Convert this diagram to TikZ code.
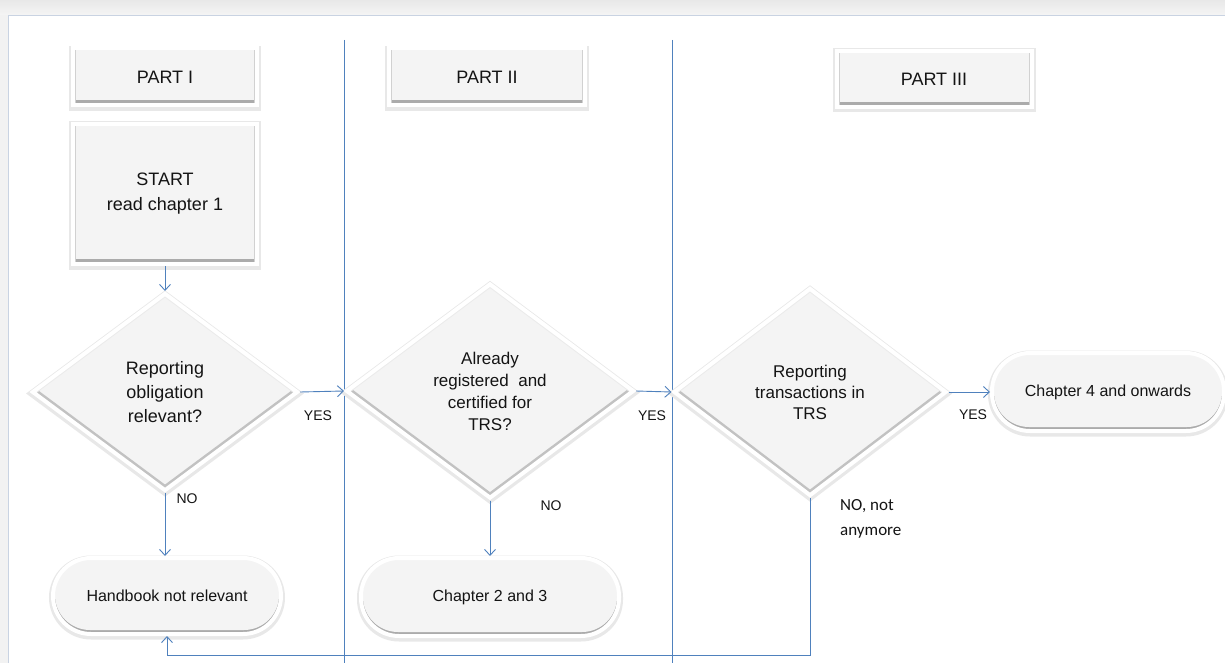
\documentclass[tikz,border=0pt]{standalone}
\usepackage{fontspec}
\setmainfont{Liberation Sans}
\newfontfamily\carlito{Carlito}
\usetikzlibrary{shapes.geometric,arrows.meta}
\definecolor{flow}{HTML}{4F81BD}
\definecolor{face}{HTML}{F4F4F4}
\definecolor{bev}{HTML}{ABABAB}
\definecolor{frameline}{HTML}{C9D3E2}
\definecolor{txt}{HTML}{141414}
\tikzset{
  halo/.style={preaction={draw=black!9, line width=8pt, transform canvas={yshift=-1.5pt}}},
  partbox/.style={rectangle, halo, draw=white, line width=4pt, fill=face, text=txt,
    inner sep=0pt, align=center, font=\fontsize{18}{25}\selectfont,
    path picture={
      \draw[bev, line width=10pt] (path picture bounding box.south west) -- (path picture bounding box.south east);
      \draw[black!18, line width=6pt] (path picture bounding box.south west) -- (path picture bounding box.north west)
        (path picture bounding box.south east) -- (path picture bounding box.north east);}},
  decision/.style={diamond, halo, draw=white, line width=4pt, fill=face, text=txt,
    inner sep=0pt, align=center,
    path picture={
      \draw[black!24, line width=9pt] (path picture bounding box.west) -- (path picture bounding box.south) -- (path picture bounding box.east);
      \draw[black!8, line width=6pt] (path picture bounding box.west) -- (path picture bounding box.north) -- (path picture bounding box.east);}},
  terminal/.style={rectangle, rounded corners=38pt, halo, draw=white, line width=4pt, fill=bev, text=txt,
    inner sep=0pt, align=center, minimum height=76pt, font=\fontsize{16}{20}\selectfont,
    path picture={
      \fill[face, rounded corners=35pt] ([xshift=2pt,yshift=4pt]path picture bounding box.south west)
        rectangle ([xshift=-2pt]path picture bounding box.north east);}},
  lane/.style={draw=flow, line width=0.9pt},
  arr/.style={draw=flow, line width=0.9pt, -{Straight Barb[length=6pt,width=11pt]}},
  lbl/.style={text=txt, inner sep=0pt, font=\fontsize{14}{17}\selectfont}
}
\begin{document}
\begin{tikzpicture}[x=1pt,y=-1pt]
\useasboundingbox (0,0) rectangle (1225,663);
% background frame
\shade[top color=black!9, bottom color=black!4] (0,0) rectangle (1225,15);
\fill[black!5] (0,15) rectangle (8,663);
\fill[white] (8,15) rectangle (1225,663);
\draw[frameline, line width=0.8pt] (8,663) -- (8,15) -- (1225,15);
% swimlane dividers
\coordinate (l1t) at (344,40); \coordinate (l1b) at (344,663);
\coordinate (l2t) at (672,40); \coordinate (l2b) at (672,663);
\draw[lane] (l1t) -- (l1b);
\draw[lane] (l2t) -- (l2b);
% headers
\node[partbox, minimum width=184pt, minimum height=57pt] (p1) at (165,77) {PART I};
\node[partbox, minimum width=196pt, minimum height=57pt] (p2) at (487,77) {PART II};
\node[partbox, minimum width=195pt, minimum height=56pt] (p3) at (934,79) {PART III};
% start
\node[partbox, minimum width=184pt, minimum height=140pt] (start) at (165,194) {START\\read chapter 1};
% decisions
\node[decision, minimum width=266pt, minimum height=198pt, font=\fontsize{18}{24}\selectfont] (d1) at (165,392) {Reporting\\obligation\\relevant?};
\node[decision, minimum width=288pt, minimum height=215pt, font=\fontsize{17}{22}\selectfont] (d2) at (490,391) {Already\\registered~ and\\certified for\\TRS?};
\node[decision, minimum width=273pt, minimum height=208pt, font=\fontsize{17}{21}\selectfont] (d3) at (810,392) {Reporting\\transactions in\\TRS};
% terminals
\node[terminal, minimum width=228pt] (hb) at (167,596) {Handbook not relevant};
\node[terminal, minimum width=258pt, minimum height=78pt] (c23) at (490,597) {Chapter 2 and 3};
\node[terminal, minimum width=232pt, minimum height=78pt] (c4) at (1108,392) {Chapter 4 and onwards};
% connectors
\draw[arr] (start) -- (d1);
\draw[arr] (d1.east) -- (d2.west);
\draw[arr] (d2.east) -- (d3.west);
\draw[arr] (d3.east) -- (c4.west);
\draw[arr] (d1.south) -- (d1.south |- hb.north);
\draw[arr] (d2.south) -- (d2.south |- c23.north);
\coordinate (ret) at (0,655);
\draw[arr] (d3.south) -- (d3.south |- ret) -| (hb.south);
% labels
\node[lbl] (y1) at (318,416) {YES};
\node[lbl] (y2) at (652,416) {YES};
\node[lbl] (y3) at (973,415) {YES};
\node[lbl] (n1) at (187,499) {NO};
\node[lbl] (n2) at (551,506) {NO};
\node[lbl, anchor=west, align=left, font=\carlito\fontsize{17}{25}\selectfont] (n3) at (840,519) {NO, not\\anymore};
\end{tikzpicture}
\end{document}
